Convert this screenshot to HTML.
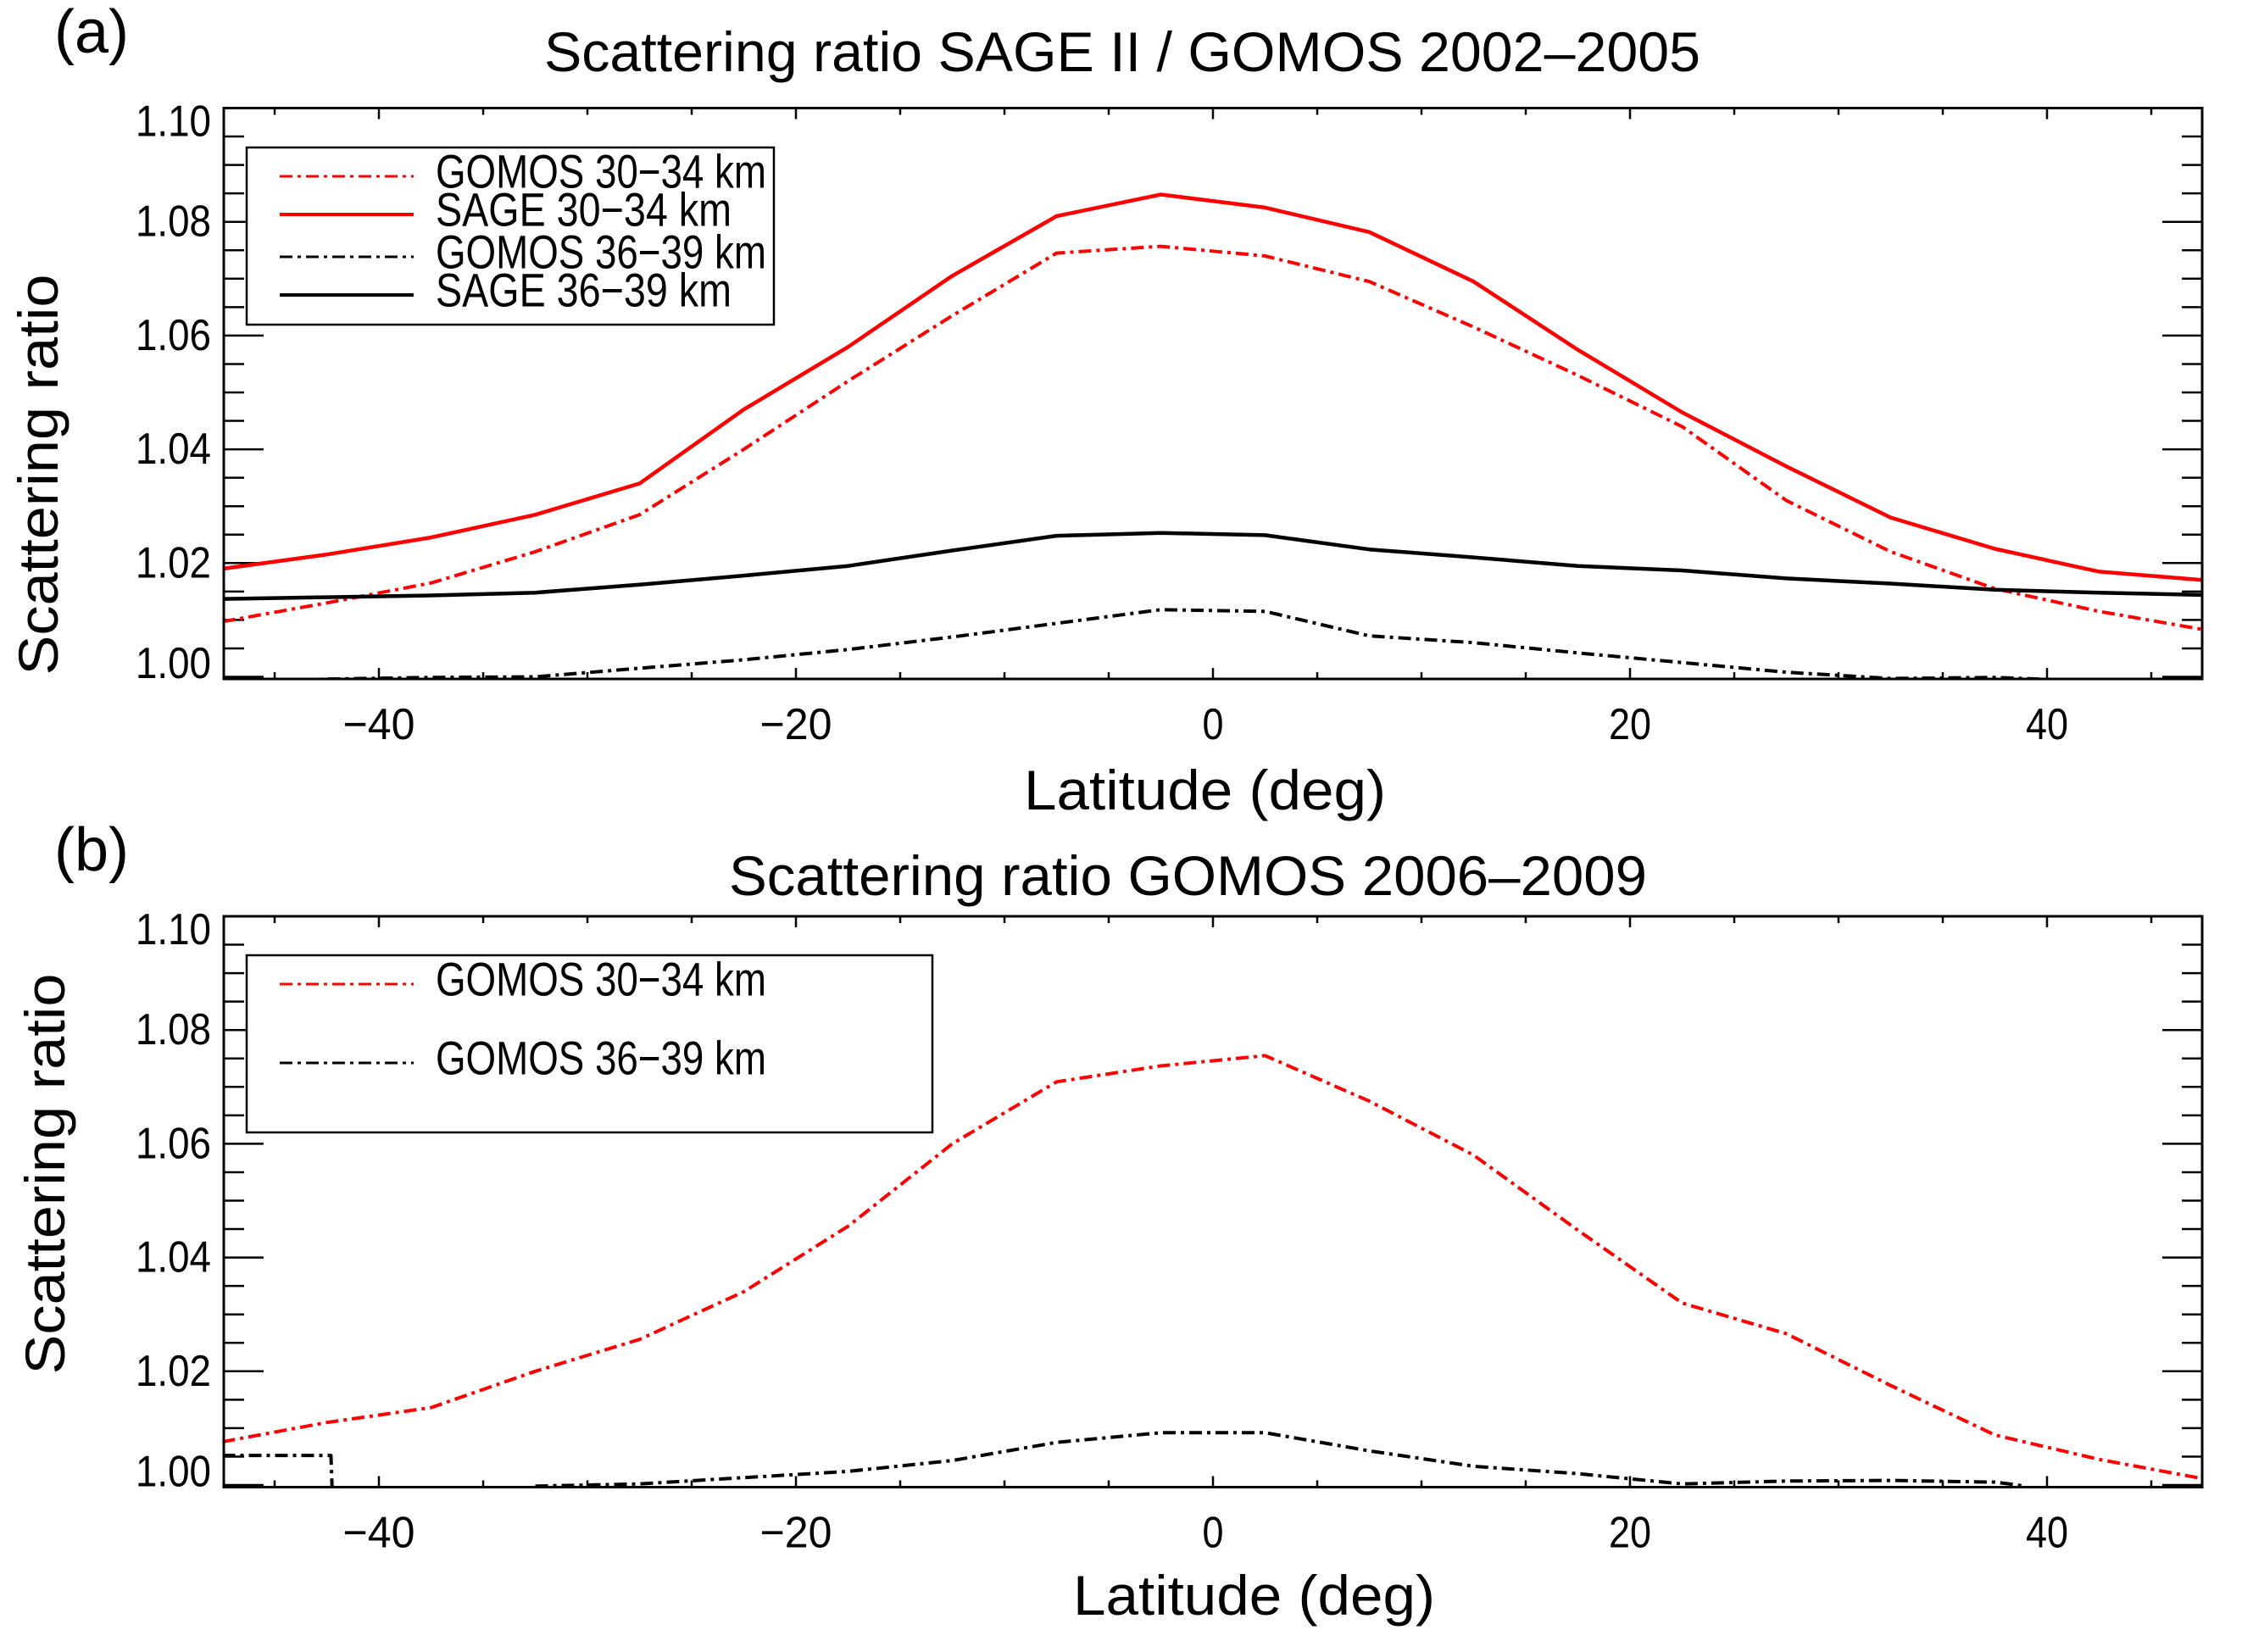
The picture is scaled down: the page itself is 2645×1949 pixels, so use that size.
<!DOCTYPE html>
<html><head><meta charset="utf-8">
<style>
html,body{margin:0;padding:0;background:#fff;}
svg{display:block;}
text{font-family:"Liberation Sans",sans-serif;fill:#000;}
.hx{font-family:"Liberation Sans Narrow","Liberation Sans",sans-serif;}
</style></head>
<body>
<svg id="fig" width="2645" height="1949" viewBox="0 0 2645 1949" xmlns="http://www.w3.org/2000/svg">
<g id="panelA"></g>
<g id="panelB"></g>
</svg>
<script>
// ---- data ----
const lats = [-47.5,-42.5,-37.5,-32.5,-27.5,-22.5,-17.5,-12.5,-7.5,-2.5,2.5,7.5,12.5,17.5,22.5,27.5,32.5,37.5,42.5,47.5];
const sage3034 = [1.019,1.0215,1.0245,1.0285,1.034,1.047,1.058,1.0705,1.081,1.0848,1.0825,1.0782,1.0695,1.0575,1.0465,1.037,1.028,1.0225,1.0185,1.017];
const gomos3034A = [1.0097,1.013,1.0165,1.022,1.0285,1.040,1.052,1.0635,1.0745,1.0757,1.074,1.0695,1.0615,1.053,1.044,1.031,1.022,1.0155,1.0115,1.0083];
const sage3639 = [1.0137,1.014,1.0143,1.0148,1.0162,1.0178,1.0195,1.0222,1.0248,1.0253,1.0249,1.0224,1.021,1.0195,1.0187,1.0173,1.0164,1.0153,1.0148,1.0144];
const gomos3639A = [0.9991,0.9996,0.9999,1.0,1.0015,1.003,1.0048,1.007,1.0094,1.0118,1.0115,1.0072,1.006,1.0042,1.0025,1.0008,0.9997,0.9999,0.9992,0.997];
const gomos3034B = [1.0076,1.011,1.0136,1.020,1.0256,1.034,1.0455,1.060,1.0709,1.0737,1.0755,1.0675,1.058,1.0448,1.032,1.0266,1.0175,1.0088,1.0045,1.0011];
const latsB36 = [-47.5,-42.3,-42.2,-37.5,-32.5,-27.5,-22.5,-17.5,-12.5,-7.5,-2.5,2.5,7.5,12.5,17.5,22.5,27.5,32.5,37.5,39];
const gomos3639B = [1.0052,1.0052,0.995,null,0.9998,1.0002,1.0013,1.0024,1.0043,1.0075,1.0092,1.0092,1.006,1.0033,1.002,1.0002,1.0007,1.0008,1.0005,0.9998];
const xTicks = [-40,-20,0,20,40];
const yTicks = [1.00,1.02,1.04,1.06,1.08,1.10];
const yTickLabels = ["1.00","1.02","1.04","1.06","1.08","1.10"];

const NS="http://www.w3.org/2000/svg";
function el(tag, parent, attrs){const e=document.createElementNS(NS,tag);for(const k in attrs)e.setAttribute(k,attrs[k]);parent.appendChild(e);return e;}
const DASHDOT="15 6 4 6";

function panel(g, P){
  const L=264,R=2598,T=P.top,B=P.top+673.5;
  const x=d=>1431+(d)*(R-1431)/47.44;
  const y=v=>(B-2.5)-(v-1.0)*(B-2.5-T)/0.1;
  const clipId='clip'+P.id;
  const cp=el('clipPath',g,{id:clipId});el('rect',cp,{x:L,y:T,width:R-L,height:B-T});
  const tl=el('text',g,{x:P.tagX,y:P.tagY,'font-size':72});tl.textContent=P.tag;
  
  
  const tt=el('text',g,{x:P.titleX,y:P.titleY,'font-size':66,textLength:P.titleW,lengthAdjust:'spacingAndGlyphs'});tt.textContent=P.title;
  
  
  const xt=el('text',g,{x:P.xtX,y:P.xtY,'font-size':66,textLength:427,lengthAdjust:'spacingAndGlyphs'});xt.textContent='Latitude (deg)';
  
  
  const yt=el('text',g,{x:0,y:0,'font-size':66,'text-anchor':'middle',textLength:473,lengthAdjust:'spacingAndGlyphs',transform:`translate(${P.ytX},${P.ytY}) rotate(-90)`});yt.textContent='Scattering ratio';
  
  
  const tg=el('g',g,{stroke:'#000','stroke-width':2.5});
  
  
  for(let d=-45;d<=45;d+=5){const len=(d%20===0)?13:8;const X=x(d);
    el('line',tg,{x1:X,y1:B,x2:X,y2:B-len});el('line',tg,{x1:X,y1:T,x2:X,y2:T+len});}
  for(let k=0;k<=20;k++){const v=1.0+k*0.005;const Y=y(v);if(Y<T+1)continue;const len=(k%4===0)?47:24;
    el('line',tg,{x1:L,y1:Y,x2:L+len,y2:Y});el('line',tg,{x1:R,y1:Y,x2:R-len,y2:Y});}
  xTicks.forEach(d=>{const t=el('text',g,{x:x(d),y:B+54,'font-size':52,'text-anchor':'middle','dominant-baseline':'central',class:'hx',textLength:(d<0?35:0)+String(Math.abs(d)).length*25,lengthAdjust:'spacingAndGlyphs'});
    t.textContent=(d<0?'\u2212':'')+Math.abs(d);
    
    });
  yTicks.forEach((v,i)=>{const c=Math.min(Math.max(y(v),T+16),B-18);
    const t=el('text',g,{x:249,y:c,'font-size':52,'text-anchor':'end','dominant-baseline':'central',class:'hx',textLength:89,lengthAdjust:'spacingAndGlyphs'});
    t.textContent=yTickLabels[i];
    
    });
  const sg=el('g',g,{'clip-path':`url(#${clipId})`,fill:'none'});
  P.series.forEach(s=>{
    let d='',pen=false;
    s.vals.forEach((v,i)=>{if(v===null){pen=false;return;}d+=(pen?'L':'M')+x(s.lats[i]).toFixed(1)+' '+y(v).toFixed(1)+' ';pen=true;});
    const p=el('path',sg,{d:d,stroke:s.color,'stroke-width':s.dash?4:4.5,'stroke-linejoin':'round'});
    if(s.dash)p.setAttribute('stroke-dasharray',DASHDOT);
    
    
  });
  const fr=el('rect',g,{x:L,y:T,width:R-L,height:B-T,fill:'none',stroke:'#000','stroke-width':3});
  
  
  const lg=el('g',g,{});
  
  
  el('rect',lg,{x:291,y:P.legT,width:P.legW,height:P.legH,fill:'#fff',stroke:'#000','stroke-width':2.5});
  P.series.forEach((s,i)=>{const ry=P.legRows[i];
    const ln=el('line',lg,{x1:330,y1:ry+6,x2:488,y2:ry+6,stroke:s.color,'stroke-width':s.dash?3:4});
    if(s.dash)ln.setAttribute('stroke-dasharray',DASHDOT);
    
    
    const t=el('text',lg,{x:514,y:ry,'font-size':56,'dominant-baseline':'central',class:'hx',textLength:s.label.startsWith('GOMOS')?390:349,lengthAdjust:'spacingAndGlyphs'});
    t.textContent=s.label;
    
    });
}

panel(document.getElementById('panelA'),{id:'A',top:127.5,tag:'(a)',tagX:64,tagY:62,title:'Scattering ratio SAGE II / GOMOS 2002\u20132005',titleX:642,titleY:84,titleW:1364,
  xtX:1208,xtY:955,ytX:68,ytY:560,legT:174,legW:622,legH:209,legRows:[202,247,297,342],
  series:[
   {name:'gomos-30-34-line',label:'GOMOS  30\u221234 km',color:'#ff0000',dash:true,lats:lats,vals:gomos3034A},
   {name:'sage-30-34-line',label:'SAGE  30\u221234 km',color:'#ff0000',dash:false,lats:lats,vals:sage3034},
   {name:'gomos-36-39-line',label:'GOMOS  36\u221239 km',color:'#000000',dash:true,lats:lats,vals:gomos3639A},
   {name:'sage-36-39-line',label:'SAGE  36\u221239 km',color:'#000000',dash:false,lats:lats,vals:sage3639}]});
panel(document.getElementById('panelB'),{id:'B',top:1081,tag:'(b)',tagX:64,tagY:1027,title:'Scattering ratio GOMOS 2006\u20132009',titleX:860,titleY:1056,titleW:1083,
  xtX:1266,xtY:1905,ytX:76,ytY:1385,legT:1127,legW:809,legH:209,legRows:[1155,1248],
  series:[
   {name:'gomos-30-34-line',label:'GOMOS  30\u221234 km',color:'#ff0000',dash:true,lats:lats,vals:gomos3034B},
   {name:'gomos-36-39-line',label:'GOMOS  36\u221239 km',color:'#000000',dash:true,lats:latsB36,vals:gomos3639B}]});
</script>
</body></html>
